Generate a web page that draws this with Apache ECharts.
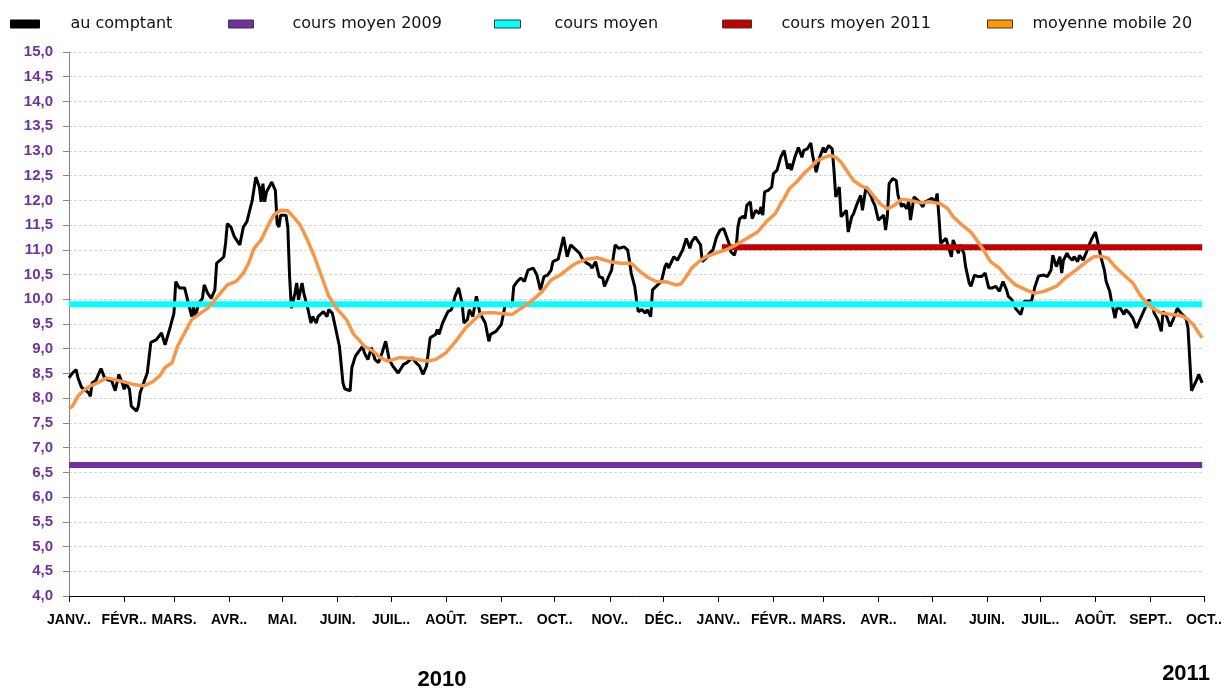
<!DOCTYPE html>
<html><head><meta charset="utf-8">
<script src="https://cdn.jsdelivr.net/npm/echarts@6/dist/echarts.min.js"></script>
<style>html,body{margin:0;padding:0;background:#fff}#c{width:1226px;height:688px}</style>
</head><body><div id="c"></div>
<script>
// Days counted from 1 Jan 2010
const startYear = 2010;
const monthLabels = ['JANV..','FÉVR..','MARS.','AVR..','MAI.','JUIN.','JUIL..','AOÛT.','SEPT..','OCT..','NOV..','DÉC..'];
const yearLabels = ['2010', '2011'];
const lastDay = 637;

// au comptant : [day, price]
const spotSeries = [
[0,8.41],[2,8.51],[4,8.58],[5,8.42],[7,8.22],[8,8.25],[11,8.11],[12,8.04],[13,8.31],[15,8.35],
[18,8.60],[20,8.41],[22,8.37],[24,8.35],[26,8.15],[28,8.48],[30,8.30],[31,8.18],[32,8.30],[34,8.18],
[35,7.84],[38,7.74],[39,7.84],[40,8.11],[42,8.31],[44,8.51],[46,9.13],[49,9.18],[52,9.32],[54,9.08],
[57,9.45],[59,9.72],[60,10.36],[62,10.23],[65,10.23],[68,9.79],[69,9.65],[70,9.85],[71,9.65],[73,9.92],
[75,10.02],[76,10.29],[78,10.12],[80,10.02],[82,10.19],[83,10.73],[85,10.79],[87,10.86],[88,11.13],[89,11.53],
[91,11.46],[93,11.26],[96,11.10],[97,11.06],[98,11.46],[100,11.57],[101,11.60],[103,12.00],[105,12.47],[107,12.27],
[108,11.97],[109,12.34],[110,11.97],[111,12.17],[112,12.17],[114,12.37],[116,12.20],[117,11.53],[118,11.46],[119,11.70],
[122,11.70],[123,11.46],[124,10.46],[125,9.82],[127,10.12],[128,10.33],[129,9.99],[131,10.33],[132,10.12],[134,9.85],
[136,9.52],[137,9.65],[139,9.52],[140,9.65],[143,9.75],[145,9.65],[146,9.79],[148,9.72],[150,9.39],[152,9.05],
[154,8.31],[155,8.19],[158,8.15],[159,8.62],[161,8.85],[163,8.95],
[165,9.05],[166,8.92],[168,8.78],[170,9.02],[172,8.78],[174,8.72],[176,8.92],[178,9.15],[180,8.78],[182,8.65],
[185,8.51],[188,8.68],[190,8.72],[193,8.82],[195,8.72],[197,8.65],[199,8.48],[201,8.65],[203,9.22],[206,9.29],
[207,9.39],[208,9.29],[210,9.52],[213,9.75],[215,9.79],[217,10.06],[219,10.23],[221,9.92],[222,9.52],[224,9.59],
[225,9.79],[227,9.65],[229,10.06],[231,9.72],[232,9.65],[234,9.52],[236,9.15],[237,9.29],[240,9.35],[243,9.49],
[245,9.85],[247,9.92],[249,9.85],[250,10.26],[252,10.36],[254,10.43],[256,10.36],[258,10.59],[261,10.63],[263,10.49],
[265,10.19],[267,10.46],[269,10.49],[271,10.59],[272,10.76],[275,10.81],[278,11.26],
[280,10.86],[282,11.10],[283,11.06],[285,11.00],[287,10.93],[289,10.79],[291,10.73],[293,10.69],[294,10.63],[296,10.76],
[297,10.73],[298,10.46],[300,10.43],[301,10.26],[303,10.43],[305,10.59],[306,10.86],[307,11.10],[309,11.03],[312,11.06],
[314,11.00],[315,10.79],[316,10.53],[318,10.26],[319,9.99],[320,9.75],[322,9.79],[324,9.72],[325,9.79],[327,9.65],
[328,10.19],[330,10.26],[331,10.23],[333,10.36],[335,10.66],[336,10.73],[337,10.63],[340,10.86],[342,10.79],[344,10.93],
[345,11.00],[347,11.23],[349,11.03],[350,11.16],[352,11.26],[353,11.23],[355,11.10],[356,10.76],[358,10.83],[360,10.93],
[362,11.00],[364,11.26],[366,11.40],[368,11.43],[369,11.33],[371,11.13],[372,10.96],[374,10.89],[375,11.03],[376,11.46],
[377,11.63],[379,11.68],[380,11.63],[381,11.90],[383,11.97],[384,11.63],[386,11.80],[388,11.73],[389,11.87],[390,11.70],
[391,12.17],[393,12.20],
[395,12.27],[396,12.54],[398,12.61],[400,12.87],[402,13.01],[404,12.64],[405,12.74],[406,12.61],[408,12.87],[410,13.07],
[412,12.87],[413,13.01],[415,13.04],[417,13.16],[418,12.91],[420,12.57],[422,12.87],[424,13.07],[425,12.97],[427,13.11],
[429,13.04],[430,12.61],[431,12.07],[433,12.27],[434,11.67],[435,11.63],[437,11.80],[438,11.36],[440,11.67],[441,11.73],
[443,11.93],[444,11.90],[445,12.10],[446,11.80],[448,12.27],[449,12.30],[451,12.07],[452,11.97],[453,11.90],[455,11.60],
[456,11.63],[458,11.70],[459,11.40],[460,11.67],[461,12.34],[463,12.44],[465,12.40],[466,12.10],[468,11.87],[469,11.93],
[471,11.83],[472,12.00],[473,11.60],[475,12.07],[476,12.07],[478,11.97],[479,12.00],[480,11.87],[481,11.97],[483,12.00],
[485,12.04],[487,11.97],[488,12.14],[489,11.67],[490,11.13],[491,11.10],[493,11.23],[494,11.10],[496,10.86],[497,11.20],
[498,11.10],[500,10.93],[501,11.10],[503,10.93],[504,10.66],[506,10.33],[507,10.26],[509,10.49],[511,10.46],[513,10.46],
[515,10.53],[517,10.23],
[519,10.23],[521,10.26],[523,10.16],[525,10.36],[527,10.19],[528,10.06],[530,9.99],[532,9.82],[533,9.85],[535,9.69],
[537,9.96],[539,9.96],[541,9.96],[542,9.99],[543,10.26],[545,10.47],[548,10.49],[550,10.46],[552,10.59],[553,10.89],
[555,10.66],[557,10.86],[558,10.53],[559,10.79],[561,10.93],[562,10.86],[564,10.79],[565,10.86],[567,10.76],[568,10.89],
[570,10.79],[572,10.96],[573,11.06],[575,11.23],[577,11.36],[578,11.20],[580,10.86],[582,10.59],[583,10.36],[585,10.16],
[586,9.96],[587,9.99],[588,9.62],[589,9.82],[590,9.79],[591,9.82],[593,9.69],[594,9.79],[596,9.72],[598,9.62],
[600,9.42],[602,9.59],[604,9.75],[607,9.99],[609,9.89],[610,9.72],[612,9.59],[614,9.35],[615,9.75],[617,9.65],
[619,9.45],[621,9.62],[623,9.82],[625,9.72],[627,9.65],[628,9.59],[629,9.42],[630,8.78],[631,8.15],[632,8.18],
[634,8.38],[635,8.48],[637,8.31]
];

// moyenne mobile 20 : [day, value]
const movingAvg20 = [
[0,7.79],[2,7.84],[5,8.04],[8,8.15],[12,8.25],[16,8.31],[21,8.41],[25,8.38],[31,8.33],[37,8.27],
[42,8.25],[47,8.33],[51,8.45],[54,8.62],[58,8.72],[61,9.05],[65,9.32],[69,9.59],[74,9.72],[78,9.82],
[82,9.99],[85,10.12],[89,10.29],[94,10.36],[98,10.53],[101,10.73],[104,11.03],[108,11.20],[112,11.50],[115,11.70],
[119,11.80],[123,11.79],[127,11.63],[130,11.50],[134,11.20],[138,10.86],[142,10.46],[146,10.06],[151,9.79],[156,9.59],
[160,9.29],[163,9.18],[166,9.05],[171,8.95],[175,8.82],[179,8.75],[186,8.82],[193,8.80],[201,8.75],[206,8.78],
[212,8.92],[218,9.18],[223,9.42],[228,9.59],[232,9.72],[238,9.73],[249,9.69],[253,9.79],[260,9.96],[266,10.16],
[271,10.39],[276,10.49],[281,10.63],[285,10.73],[291,10.81],[297,10.84],[304,10.76],[310,10.73],[316,10.73],[321,10.56],
[326,10.43],[330,10.36],[336,10.35],[341,10.29],[344,10.31],[347,10.46],[350,10.63],[354,10.76],[358,10.86],[364,10.94],
[370,11.01],[375,11.10],[381,11.23],[387,11.36],[392,11.57],[397,11.73],[400,11.93],[402,12.04],[405,12.24],[409,12.37],
[413,12.54],[417,12.67],[420,12.79],[424,12.86],[428,12.91],[431,12.87],[434,12.77],[437,12.61],[441,12.40],[445,12.30],
[449,12.24],[452,12.10],[456,11.93],[460,11.83],[464,11.90],[468,12.02],[473,12.00],[479,11.95],[484,11.97],[490,11.93],
[494,11.83],[497,11.67],[502,11.50],[507,11.36],[511,11.16],[514,11.00],[518,10.76],[523,10.63],[527,10.46],[532,10.29],
[538,10.19],[543,10.12],[548,10.16],[555,10.26],[560,10.43],[566,10.59],[572,10.76],[576,10.86],[580,10.87],[584,10.83],
[588,10.66],[593,10.49],[598,10.33],[602,10.09],[605,9.96],[609,9.82],[614,9.72],[620,9.69],[625,9.67],[628,9.62],
[632,9.49],[635,9.32],[637,9.22]
];

// reference averages
const avg2009 = 6.65;
const avgAll = 9.90;
const avg2011 = 11.05;
const avg2011StartDay = 367; // 3 Jan 2011

const DAY = 86400000;
const t0 = Date.UTC(startYear, 0, 1);
const toTime = d => t0 + d * DAY;
const toPoints = arr => arr.map(p => [toTime(p[0]), p[1]]);
const monthTicks = [];
for (let i = 0; i <= 21; i++) monthTicks.push(Date.UTC(startYear, i, 1));

const names = ['au comptant', 'cours moyen 2009', 'cours moyen', 'cours moyen 2011', 'moyenne mobile 20'];
const lineColors = ['#000000', '#7030A0', '#00FFFF', '#C00000', '#F79646'];
const legendIconColors = ['#000000', '#7030A0', '#00FFFF', '#C00000', '#FF9900'];
const legendLayout = [
  {left: 10, w: 29, pad: 26},
  {left: 228, w: 25, pad: 34},
  {left: 494, w: 26, pad: 29},
  {left: 722, w: 29, pad: 25},
  {left: 987, w: 25, pad: 15}
];

const chart = echarts.init(document.getElementById('c'), null, {renderer: 'canvas'});
const lineBase = {type: 'line', showSymbol: false, symbol: 'none', animation: false, emphasis: {disabled: true}, silent: true};

const option = {
  animation: false,
  backgroundColor: '#ffffff',
  grid: {left: 69, right: 22, top: 52, bottom: 92},
  legend: names.map((n, i) => ({
    data: [{name: n, itemStyle: {color: legendIconColors[i], borderColor: i === 0 ? '#000' : '#3a3a3a', borderWidth: 1}}],
    left: legendLayout[i].left, top: 16, padding: 0, icon: 'rect',
    itemWidth: legendLayout[i].w, itemHeight: 8, selectedMode: false,
    textStyle: {fontFamily: 'DejaVu Sans', fontSize: 16, color: '#111', padding: [0, 0, 0, legendLayout[i].pad]}
  })),
  xAxis: {
    type: 'value', min: toTime(0), max: Date.UTC(startYear + 1, 9, 1),
    axisLine: {show: true, lineStyle: {color: '#000', width: 1}},
    axisTick: {show: true, customValues: monthTicks, length: 6, lineStyle: {color: '#000'}},
    axisLabel: {
      customValues: monthTicks, margin: 17, hideOverlap: false,
      formatter: v => monthLabels[new Date(v).getUTCMonth()],
      color: '#000', fontWeight: 'bold', fontSize: 14, fontFamily: 'Liberation Sans'
    },
    splitLine: {show: false}
  },
  yAxis: {
    type: 'value', min: 4, max: 15, interval: 0.5,
    axisLine: {show: true, lineStyle: {color: '#868686'}},
    axisTick: {show: true, length: 6, lineStyle: {color: '#868686'}},
    axisLabel: {
      margin: 16, formatter: v => v.toFixed(1).replace('.', ','),
      color: '#7030A0', fontWeight: 'bold', fontSize: 15, fontFamily: 'Liberation Sans'
    },
    splitLine: {show: true, lineStyle: {color: '#d6d6d6', type: [3, 2], width: 1}}
  },
  series: [
    Object.assign({}, lineBase, {name: names[0], data: toPoints(spotSeries), color: lineColors[0], lineStyle: {color: lineColors[0], width: 3}, z: 2}),
    Object.assign({}, lineBase, {name: names[1], data: toPoints([[0, avg2009], [lastDay, avg2009]]), color: lineColors[1], lineStyle: {color: lineColors[1], width: 6}, z: 3}),
    Object.assign({}, lineBase, {name: names[2], data: toPoints([[0, avgAll], [lastDay, avgAll]]), color: lineColors[2], lineStyle: {color: lineColors[2], width: 6}, z: 4}),
    Object.assign({}, lineBase, {name: names[3], data: toPoints([[avg2011StartDay, avg2011], [lastDay, avg2011]]), color: lineColors[3], lineStyle: {color: lineColors[3], width: 6}, z: 5}),
    Object.assign({}, lineBase, {name: names[4], data: toPoints(movingAvg20), color: lineColors[4], lineStyle: {color: lineColors[4], width: 3.5}, z: 6})
  ],
  graphic: [
    {type: 'text', x: 442, y: 680, style: {text: yearLabels[0], align: 'center', verticalAlign: 'middle', font: 'bold 22px "Liberation Sans"', fill: '#000'}},
    {type: 'text', x: 1186, y: 674, style: {text: yearLabels[1], align: 'center', verticalAlign: 'middle', font: 'bold 22px "Liberation Sans"', fill: '#000'}}
  ]
};
chart.setOption(option);
</script>
</body></html>
